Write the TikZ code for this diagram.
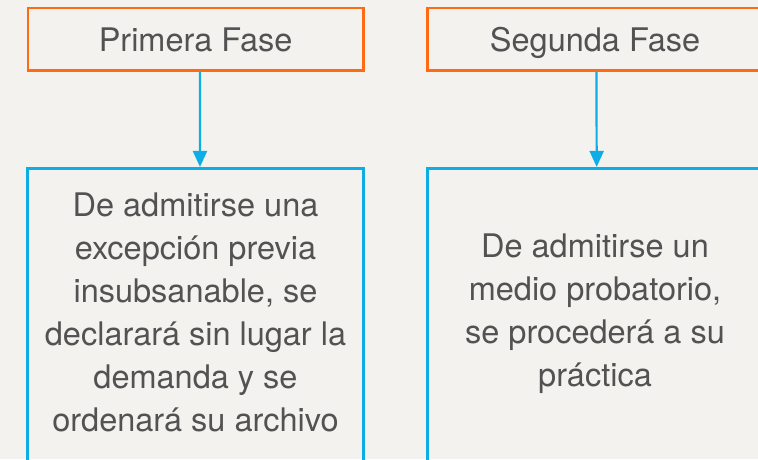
\documentclass[tikz,border=0pt]{standalone}
\usepackage{fontspec}
\setmainfont{TeX Gyre Heros}
\usetikzlibrary{arrows.meta}
\definecolor{boxorange}{HTML}{FF6A13}
\definecolor{boxblue}{HTML}{0DAEE6}
\definecolor{txtgray}{HTML}{525252}
\definecolor{paper}{HTML}{F4F2EF}
\begin{document}
\begin{tikzpicture}[x=1pt,y=-1pt,
  phase/.style={draw=boxorange,line width=2.7pt,minimum width=335.5pt,minimum height=62.7pt,inner sep=0pt,text height=24.6pt,text depth=0pt,font=\fontsize{32.5}{38}\selectfont,text=txtgray},
  result/.style={draw=boxblue,line width=2.7pt,minimum width=336pt,minimum height=320pt,inner sep=0pt},
  body/.style={align=center,font=\fontsize{32.5}{43}\selectfont,text=txtgray,inner sep=0pt},
  link/.style={draw=boxblue,line width=2.2pt,-{Triangle[length=16pt,width=14pt]}}]
\useasboundingbox (0,0) rectangle (758,459);
\clip (0,0) rectangle (758,459);
\fill[paper] (0,0) rectangle (758,459);
\node[phase] (f1) at (195.65,39.35) {Primera Fase};
\node[phase] (f2) at (595.05,39.35) {Segunda Fase};
\node[result] (r1) at (195.7,328.3) {};
\node[result] (r2) at (595.3,328.3) {};
\node[body] (t1) at (195.5,312.2) {De admitirse una\\excepción previa\\insubsanable, se\\declarará sin lugar la\\demanda y se\\ordenará su archivo};
\node[body] (t2) at (595,314) {De admitirse un\\medio probatorio,\\se procederá a su\\práctica};
\draw[link] ([xshift=4.3pt]f1.south) -- ([xshift=4.3pt]r1.north);
\draw[link] ([xshift=1.4pt]f2.south) -- ([xshift=1.4pt]r2.north);
\end{tikzpicture}
\end{document}
